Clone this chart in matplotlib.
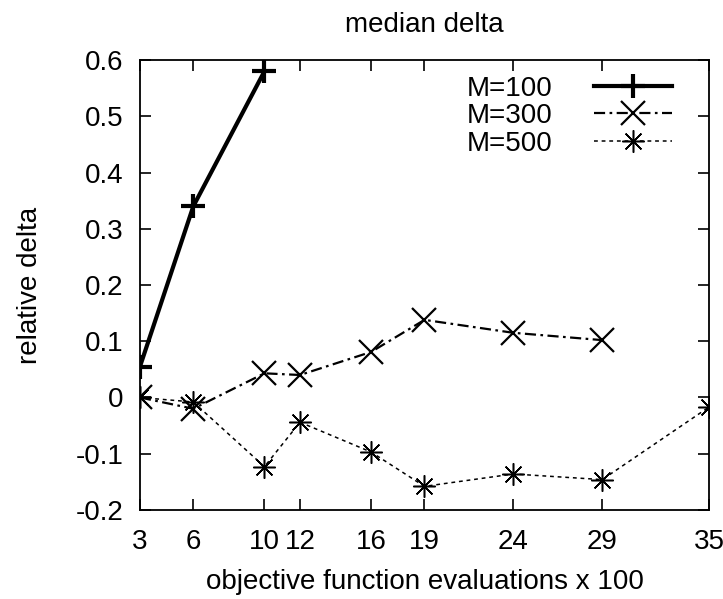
import matplotlib
matplotlib.use('Agg')
from matplotlib import pyplot as plt

plt.rcParams['font.family'] = ['Liberation Sans', 'DejaVu Sans']

x_ticks = [3, 6, 10, 12, 16, 19, 24, 29, 35]

x_m100 = [3, 6, 10]
y_m100 = [0.055, 0.34, 0.58]

x_m300 = [3, 6, 10, 12, 16, 19, 24, 29]
y_m300 = [0.0, -0.02, 0.043, 0.04, 0.081, 0.138, 0.115, 0.102]

x_m500 = [3, 6, 10, 12, 16, 19, 24, 29, 35]
y_m500 = [0.0, -0.008, -0.123, -0.044, -0.097, -0.158, -0.136, -0.146, -0.017]

fs = 20

fig = plt.figure(figsize=(7.23, 5.99), dpi=100)
ax = fig.add_axes([0.1936, 0.1486, 0.787, 0.7512])

ax.plot(x_m100, y_m100, color='black', linewidth=3, marker='+', markersize=17,
        markeredgewidth=3, label='M=100')
ax.plot(x_m300, y_m300, color='black', linewidth=1.6, linestyle=(0, (5, 2, 1.2, 2)),
        marker='x', markersize=17, markeredgewidth=1.6, label='M=300')
ax.plot(x_m500, y_m500, color='black', linewidth=1.1, linestyle=(0, (2.5, 2.5)),
        marker=(8, 2, 0), markersize=16, markeredgewidth=1.1, label='M=500')

ax.set_xlim(3, 35)
ax.set_ylim(-0.2, 0.6)
ax.set_xticks(x_ticks)
ax.set_yticks([-0.2, -0.1, 0, 0.1, 0.2, 0.3, 0.4, 0.5, 0.6])
ax.set_yticklabels(['-0.2', '-0.1', '0', '0.1', '0.2', '0.3', '0.4', '0.5', '0.6'])
ax.tick_params(axis='both', direction='in', length=8, width=1.2, top=True, right=True,
               labelsize=fs)
ax.tick_params(axis='x', pad=14)
ax.tick_params(axis='y', pad=12)
for sp in ax.spines.values():
    sp.set_linewidth(1.3)

ax.set_title('median delta', fontsize=fs, pad=20)
ax.set_xlabel('objective function evaluations x 100', fontsize=fs, labelpad=10)
ax.set_ylabel('relative delta', fontsize=fs, labelpad=23)

ax.legend(loc='upper right', frameon=False, markerfirst=False, fontsize=fs,
          handlelength=2.8, handletextpad=1.5, labelspacing=0.05, borderpad=0,
          borderaxespad=0, bbox_to_anchor=(0.935, 0.965))

fig.savefig('out.png', dpi=100)
